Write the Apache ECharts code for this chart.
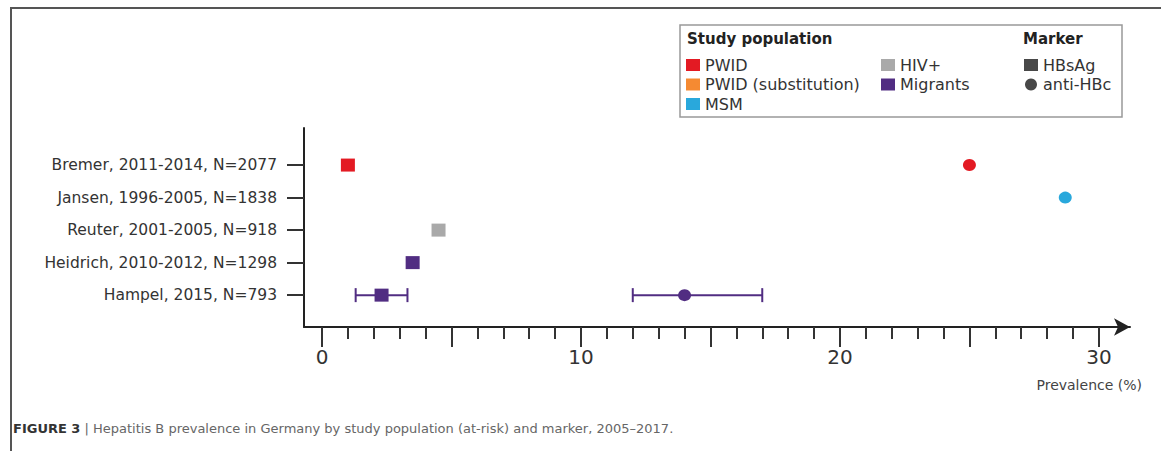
<!DOCTYPE html>
<html><head><meta charset="utf-8">
<script src="https://cdn.jsdelivr.net/npm/echarts@6/dist/echarts.min.js"></script>
<style>html,body{margin:0;padding:0;background:#fff}#c{width:1161px;height:451px}</style>
</head><body><div id="c"></div>
<script>
// ---- data ----
const studies = ['Bremer, 2011-2014, N=2077', 'Jansen, 1996-2005, N=1838', 'Reuter, 2001-2005, N=918', 'Heidrich, 2010-2012, N=1298', 'Hampel, 2015, N=793'];
const studyRows = [0, 1, 2, 3, 4];
const populations = ['PWID', 'PWID (substitution)', 'MSM', 'HIV+', 'Migrants'];
const popColors = ['#e31a23', '#f58a32', '#29a8dc', '#a9a9a9', '#512d82'];
const markerNames = ['HBsAg', 'anti-HBc'];
// [prevalence %, study row, marker]
const pwidPoints = [[1.0, 0, 'HBsAg'], [25.0, 0, 'anti-HBc']];
const pwidSubPoints = [];
const msmPoints = [[28.7, 1, 'anti-HBc']];
const hivPoints = [[4.5, 2, 'HBsAg']];
const migrantPoints = [[3.5, 3, 'HBsAg'], [2.3, 4, 'HBsAg'], [14.0, 4, 'anti-HBc']];
// [low, high, study row]
const migrantCI = [[1.3, 3.3, 4], [12.0, 17.0, 4]];
const xMinorTicks = [0, 1, 2, 3, 4, 5, 6, 7, 8, 9, 10, 11, 12, 13, 14, 15, 16, 17, 18, 19, 20, 21, 22, 23, 24, 25, 26, 27, 28, 29, 30];
const xMajorTicks = [0, 5, 10, 15, 20, 25, 30];
const xTickLabels = [0, 10, 20, 30];

const FONT = 'DejaVu Sans';
const chart = echarts.init(document.getElementById('c'), null, {renderer: 'svg'});

function pts(list) {
  return list.map(p => ({
    value: [p[0], p[1]],
    symbol: p[2] === 'HBsAg' ? 'rect' : 'circle',
    symbolSize: p[2] === 'HBsAg' ? [14, 13] : [13, 12]
  }));
}
const popData = [pwidPoints, pwidSubPoints, msmPoints, hivPoints, migrantPoints];

const baseX = {
  type: 'value', gridIndex: 0, position: 'bottom',
  min: -0.695, max: 31.2,
  splitLine: {show: false}
};

const series = [{
  type: 'custom', name: 'CI', xAxisIndex: 0, yAxisIndex: 0, silent: true, z: 1,
  data: migrantCI,
  renderItem: function (params, api) {
    const lo = api.coord([api.value(0), api.value(2)]);
    const hi = api.coord([api.value(1), api.value(2)]);
    const cap = 7;
    const style = {stroke: popColors[4], lineWidth: 2};
    return {type: 'group', children: [
      {type: 'line', shape: {x1: lo[0], y1: lo[1], x2: hi[0], y2: hi[1]}, style: style},
      {type: 'line', shape: {x1: lo[0], y1: lo[1] - cap, x2: lo[0], y2: lo[1] + cap}, style: style},
      {type: 'line', shape: {x1: hi[0], y1: hi[1] - cap, x2: hi[0], y2: hi[1] + cap}, style: style}
    ]};
  }
}];
populations.forEach((name, i) => {
  series.push({
    type: 'scatter', name: name, xAxisIndex: 0, yAxisIndex: 0, z: 3, silent: true,
    itemStyle: {color: popColors[i], opacity: 1},
    data: pts(popData[i])
  });
});
series.push({type: 'scatter', name: 'HBsAg', data: [], itemStyle: {color: '#1a1a1a'}});
series.push({type: 'scatter', name: 'anti-HBc', data: [], itemStyle: {color: '#1a1a1a'}});

const legendCommon = {
  orient: 'vertical', top: 57, padding: 0, itemGap: 3.5,
  itemWidth: 14, itemHeight: 12, selectedMode: false,
  textStyle: {fontFamily: FONT, fontSize: 16, color: '#333', lineHeight: 16}
};

chart.setOption({
  animation: false,
  backgroundColor: '#fff',
  grid: {left: 304, right: 31, top: 128, bottom: 124, containLabel: false},
  xAxis: [
    Object.assign({}, baseX, {
      axisLine: {show: true, onZero: false, symbol: ['none', 'arrow'], symbolSize: [13, 16],
        lineStyle: {color: '#222', width: 2}},
      axisTick: {show: true, length: 12, customValues: xMinorTicks, lineStyle: {color: '#333', width: 2}},
      axisLabel: {show: false}
    }),
    Object.assign({}, baseX, {
      axisLine: {show: false, onZero: false},
      axisTick: {show: true, length: 20, customValues: xMajorTicks, lineStyle: {color: '#333', width: 2}},
      axisLabel: {show: true, customValues: xTickLabels, margin: 20, fontFamily: FONT, fontSize: 20, color: '#333'}
    })
  ],
  yAxis: {
    type: 'value', inverse: true, min: -1.14, max: 4.98,
    splitLine: {show: false},
    axisLine: {show: true, onZero: false, lineStyle: {color: '#222', width: 2}},
    axisTick: {show: true, length: 17, customValues: studyRows, lineStyle: {color: '#333', width: 2}},
    axisLabel: {show: true, customValues: studyRows, formatter: v => studies[v], margin: 27,
      fontFamily: FONT, fontSize: 15.5, color: '#333'}
  },
  legend: [
    Object.assign({}, legendCommon, {left: 686, data: populations.slice(0, 3).map(n => ({name: n, icon: 'rect'}))}),
    Object.assign({}, legendCommon, {left: 881, data: populations.slice(3).map(n => ({name: n, icon: 'rect'}))}),
    Object.assign({}, legendCommon, {left: 1024, data: [{name: markerNames[0], icon: 'rect'}, {name: markerNames[1], icon: 'circle'}]})
  ],
  graphic: [
    {type: 'polyline', z: 0, silent: true, shape: {points: [[11, 451], [11, 8], [1161, 8]]},
      style: {stroke: '#555', lineWidth: 2, fill: null}},
    {type: 'rect', z: 0, silent: true, shape: {x: 680, y: 25, width: 442, height: 92},
      style: {fill: '#fff', stroke: '#999', lineWidth: 1.5}},
    {type: 'text', z: 5, silent: true, x: 687, y: 39,
      style: {text: 'Study population', fontFamily: FONT, fontSize: 15, fontWeight: 'bold', fill: '#222', verticalAlign: 'middle'}},
    {type: 'text', z: 5, silent: true, x: 1023, y: 39,
      style: {text: 'Marker', fontFamily: FONT, fontSize: 15, fontWeight: 'bold', fill: '#222', verticalAlign: 'middle'}},
    {type: 'text', z: 5, silent: true, x: 1142, y: 385,
      style: {text: 'Prevalence (%)', fontFamily: FONT, fontSize: 14, fill: '#444', align: 'right', verticalAlign: 'middle'}},
    {type: 'text', z: 5, silent: true, x: 13, y: 428,
      style: {text: '{b|FIGURE 3} | Hepatitis B prevalence in Germany by study population (at-risk) and marker, 2005–2017.',
        fontFamily: FONT, fontSize: 13, fill: '#666', verticalAlign: 'middle',
        rich: {b: {fontFamily: FONT, fontSize: 13, fontWeight: 'bold', fill: '#333'}}}}
  ],
  series: series
});
</script></body></html>
